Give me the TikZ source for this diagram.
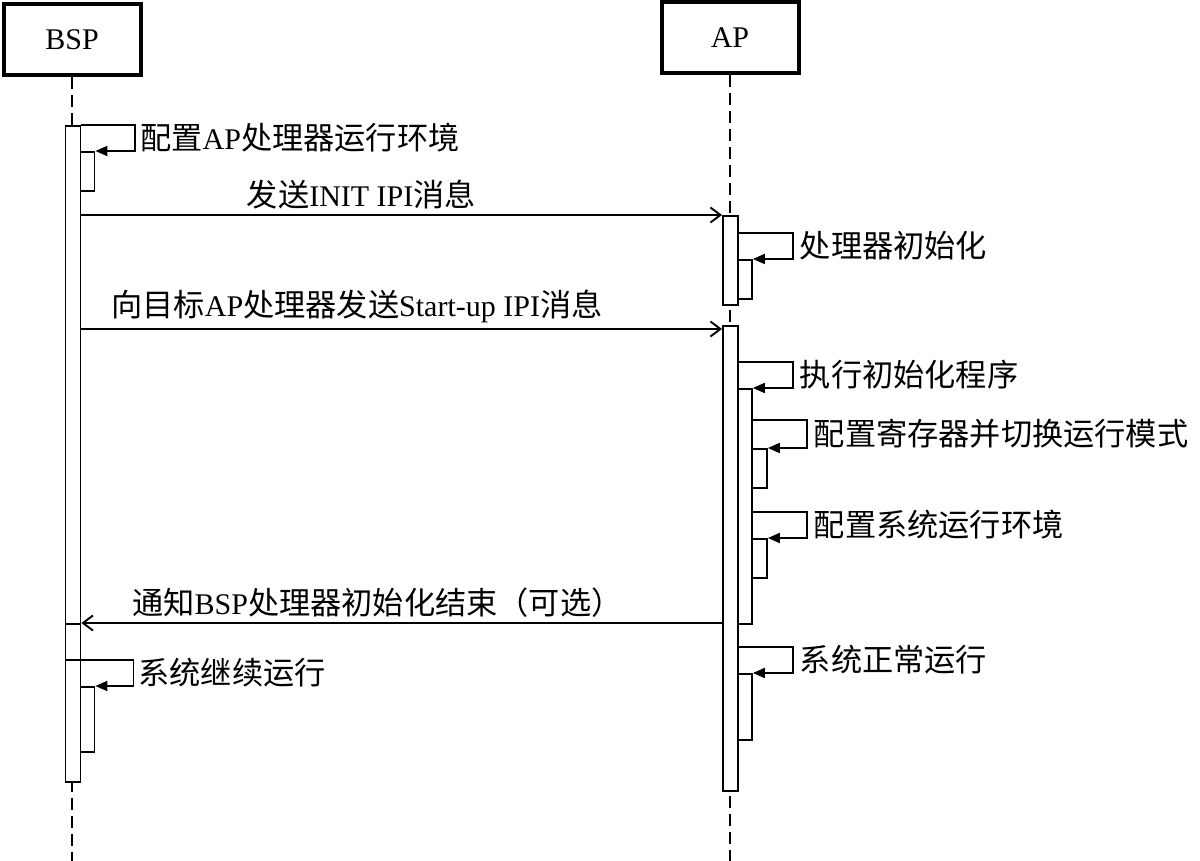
\documentclass[tikz,border=0pt]{standalone}
\usepackage{fontspec}
\setmainfont{Liberation Serif}
\newfontfamily\cjk{Noto Sans CJK SC}[Scale=1.04]
\newcommand\zh[1]{{\cjk #1}}
\usetikzlibrary{arrows.meta}

\tikzset{
    head/.style={draw, line width=4pt, inner sep=0pt, minimum width=137pt, minimum height=71pt},
    bar/.style={draw, fill=white, line width=1.9pt, inner sep=0pt, anchor=north west},
    life/.style={line width=1.9pt, dash pattern=on 12pt off 6pt},
    msg/.style={line width=1.9pt, -{Straight Barb[length=10pt,width=15pt]}},
    selfmsg/.style={line width=1.9pt, -{Triangle[length=12pt,width=10pt]}},
}

\begin{document}
\begin{tikzpicture}[x=1pt, y=-1pt, font=\fontsize{30}{36}\selectfont]
        \useasboundingbox (0,0) rectangle (1200,861);

        % objects
        \node[head] (bsp) at (72,40) {BSP};
        \node[head] (ap) at (730,38) {AP};
        \coordinate (bspend) at (bsp.south |- 0,861);
        \coordinate (apend) at (ap.south |- 0,861);
        \draw[life] (bsp.south) -- (bspend);
        \draw[life] (ap.south) -- (apend);

        % activation bars
        \foreach \name/\x/\y/\w/\h in {bsp1/64.5/125/15/498, bsp1s/79.5/151/14/39,
                bsp2/64.5/623/15/158, bsp2s/79.5/686/14/65,
                ap1/722/215/15/89, ap1s/737/259/14/39,
                ap2/722/325/15/465, ap2s/737/388/14/235,
                ap2ss1/751/448/15/39, ap2ss2/751/538/15/39, ap2s2/737/673/14/66}
            \node[bar, minimum width=\w, minimum height=\h] (\name) at (\x,\y) {};

        % self calls
        \draw[selfmsg] (bsp1.north east) -- ++(54,0) |- node[pos=0.25, right, inner sep=4pt] {\zh{配置}AP\zh{处理器运行环境}} (bsp1s.north east);
        \draw[selfmsg] ([yshift=-18pt]ap1.north east) -- ++(54,0) |- node[pos=0.25, right, inner sep=6pt] {\zh{处理器初始化}} (ap1s.north east);
        \draw[selfmsg] ([yshift=-37pt]ap2.north east) -- ++(54,0) |- node[pos=0.25, right, inner sep=6pt] {\zh{执行初始化程序}} (ap2s.north east);
        \draw[selfmsg] ([yshift=-32pt]ap2s.north east) -- ++(54,0) |- node[pos=0.25, right, inner sep=6pt] {\zh{配置寄存器并切换运行模式}} (ap2ss1.north east);
        \draw[selfmsg] ([yshift=-124pt]ap2s.north east) -- ++(54,0) |- node[pos=0.25, right, inner sep=6pt] {\zh{配置系统运行环境}} (ap2ss2.north east);
        \draw[selfmsg] ([yshift=-322pt]ap2.north east) -- ++(54,0) |- node[pos=0.25, right, inner sep=6pt] {\zh{系统正常运行}} (ap2s2.north east);
        \draw[selfmsg] ([yshift=-37pt]bsp2.north west) -- ++(69,0) |- node[pos=0.25, right, inner sep=4pt] {\zh{系统继续运行}} (bsp2s.north east);

        % messages
        \draw[msg] (bsp1.east |- ap1.north) -- node[pos=0.437, above, inner sep=5pt] {\zh{发送}INIT IPI\zh{消息}} (ap1.north west);
        \coordinate (sipi) at ([yshift=-4pt]ap2.north west);
        \draw[msg] (bsp1.east |- sipi) -- node[pos=0.43, above, inner sep=5pt] {\zh{向目标}AP\zh{处理器发送}Start-up IPI\zh{消息}} (sipi);
        \draw[msg] (ap2.west |- bsp2.north) -- node[pos=0.538, above, inner sep=5pt] {\zh{通知}BSP\zh{处理器初始化结束（可选）}} (bsp2.north east);
    \end{tikzpicture}
\end{document}
